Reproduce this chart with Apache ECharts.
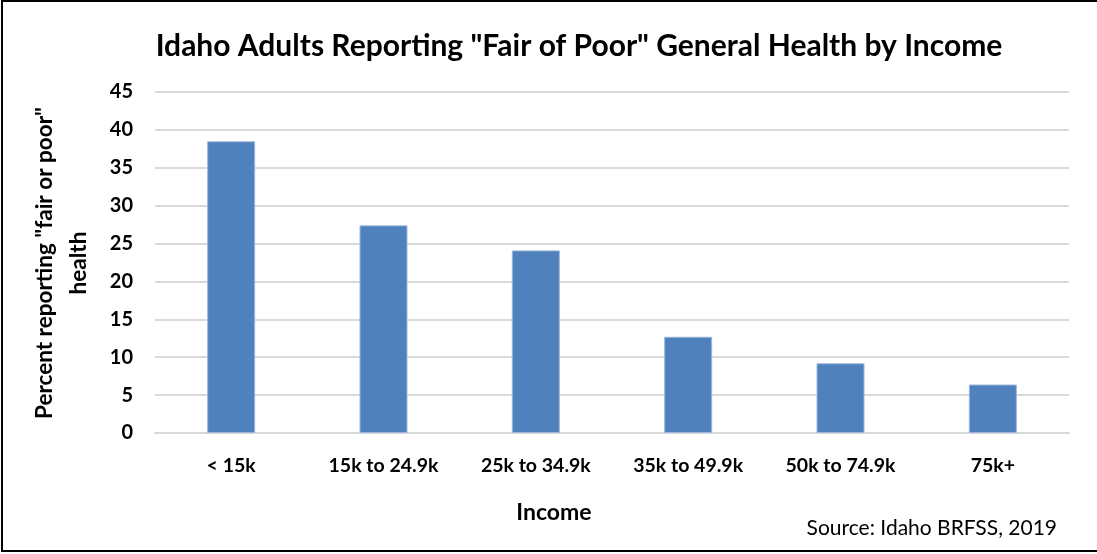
<!DOCTYPE html>
<html>
<head>
<meta charset="utf-8">
<script src="https://cdn.jsdelivr.net/npm/echarts@6/dist/echarts.min.js"></script>
<style>html,body{margin:0;padding:0;background:#fff;}#c{width:1097px;height:554px;}</style>
</head>
<body>
<div id="c"></div>
<script>
const categories = ['< 15k', '15k to 24.9k', '25k to 34.9k', '35k to 49.9k', '50k to 74.9k', '75k+'];
const values = [38.5, 27.4, 24.1, 12.7, 9.2, 6.4];
const titleText = 'Idaho Adults Reporting "Fair of Poor" General Health by Income';
const yAxisName = 'Percent reporting "fair or poor"\nhealth';
const xAxisName = 'Income';
const sourceText = 'Source: Idaho BRFSS, 2019';

const FONT = 'Lato, "Open Sans", sans-serif';
const chart = echarts.init(document.getElementById('c'), null, {renderer: 'canvas'});
chart.setOption({
  animation: false,
  backgroundColor: '#fff',
  title: {
    text: titleText, left: 574, top: 26, textAlign: 'center',
    textStyle: {fontFamily: FONT, fontWeight: 'bold', fontSize: 30, color: '#000'}
  },
  grid: {left: 155, right: 28, top: 92, bottom: 121, containLabel: false},
  xAxis: {
    type: 'category', data: categories,
    axisLine: {show: true, lineStyle: {color: '#d9d9d9', width: 2}},
    axisTick: {show: false},
    axisLabel: {fontFamily: FONT, fontWeight: 'bold', fontSize: 19.5, color: '#000', margin: 23}
  },
  yAxis: {
    type: 'value', min: 0, max: 45, interval: 5,
    axisLine: {show: false}, axisTick: {show: false},
    splitLine: {lineStyle: {color: '#d9d9d9', width: 2}},
    axisLabel: {fontFamily: FONT, fontWeight: 'bold', fontSize: 20, color: '#000', margin: 22}
  },
  series: [{
    type: 'bar', data: values, barWidth: 48,
    itemStyle: {color: '#4f81bd', borderColor: '#9db7db', borderWidth: 1}
  }],
  graphic: [
    {type: 'rect', silent: true, shape: {x: 2, y: 1, width: 1200, height: 550},
     style: {fill: 'none', stroke: '#000', lineWidth: 2}},
    {type: 'text', x: 62, y: 263, rotation: Math.PI / 2,
     style: {text: yAxisName, fontFamily: FONT, fontWeight: 'bold', fontSize: 22.5, fill: '#000',
             align: 'center', verticalAlign: 'middle', lineHeight: 34}},
    {type: 'text', x: 554, y: 513,
     style: {text: xAxisName, fontFamily: FONT, fontWeight: 'bold', fontSize: 23, fill: '#000',
             align: 'center', verticalAlign: 'middle'}},
    {type: 'text', x: 1057, y: 528,
     style: {text: sourceText, fontFamily: FONT, fontSize: 21, fill: '#000',
             align: 'right', verticalAlign: 'middle'}}
  ]
});
</script>
</body>
</html>
